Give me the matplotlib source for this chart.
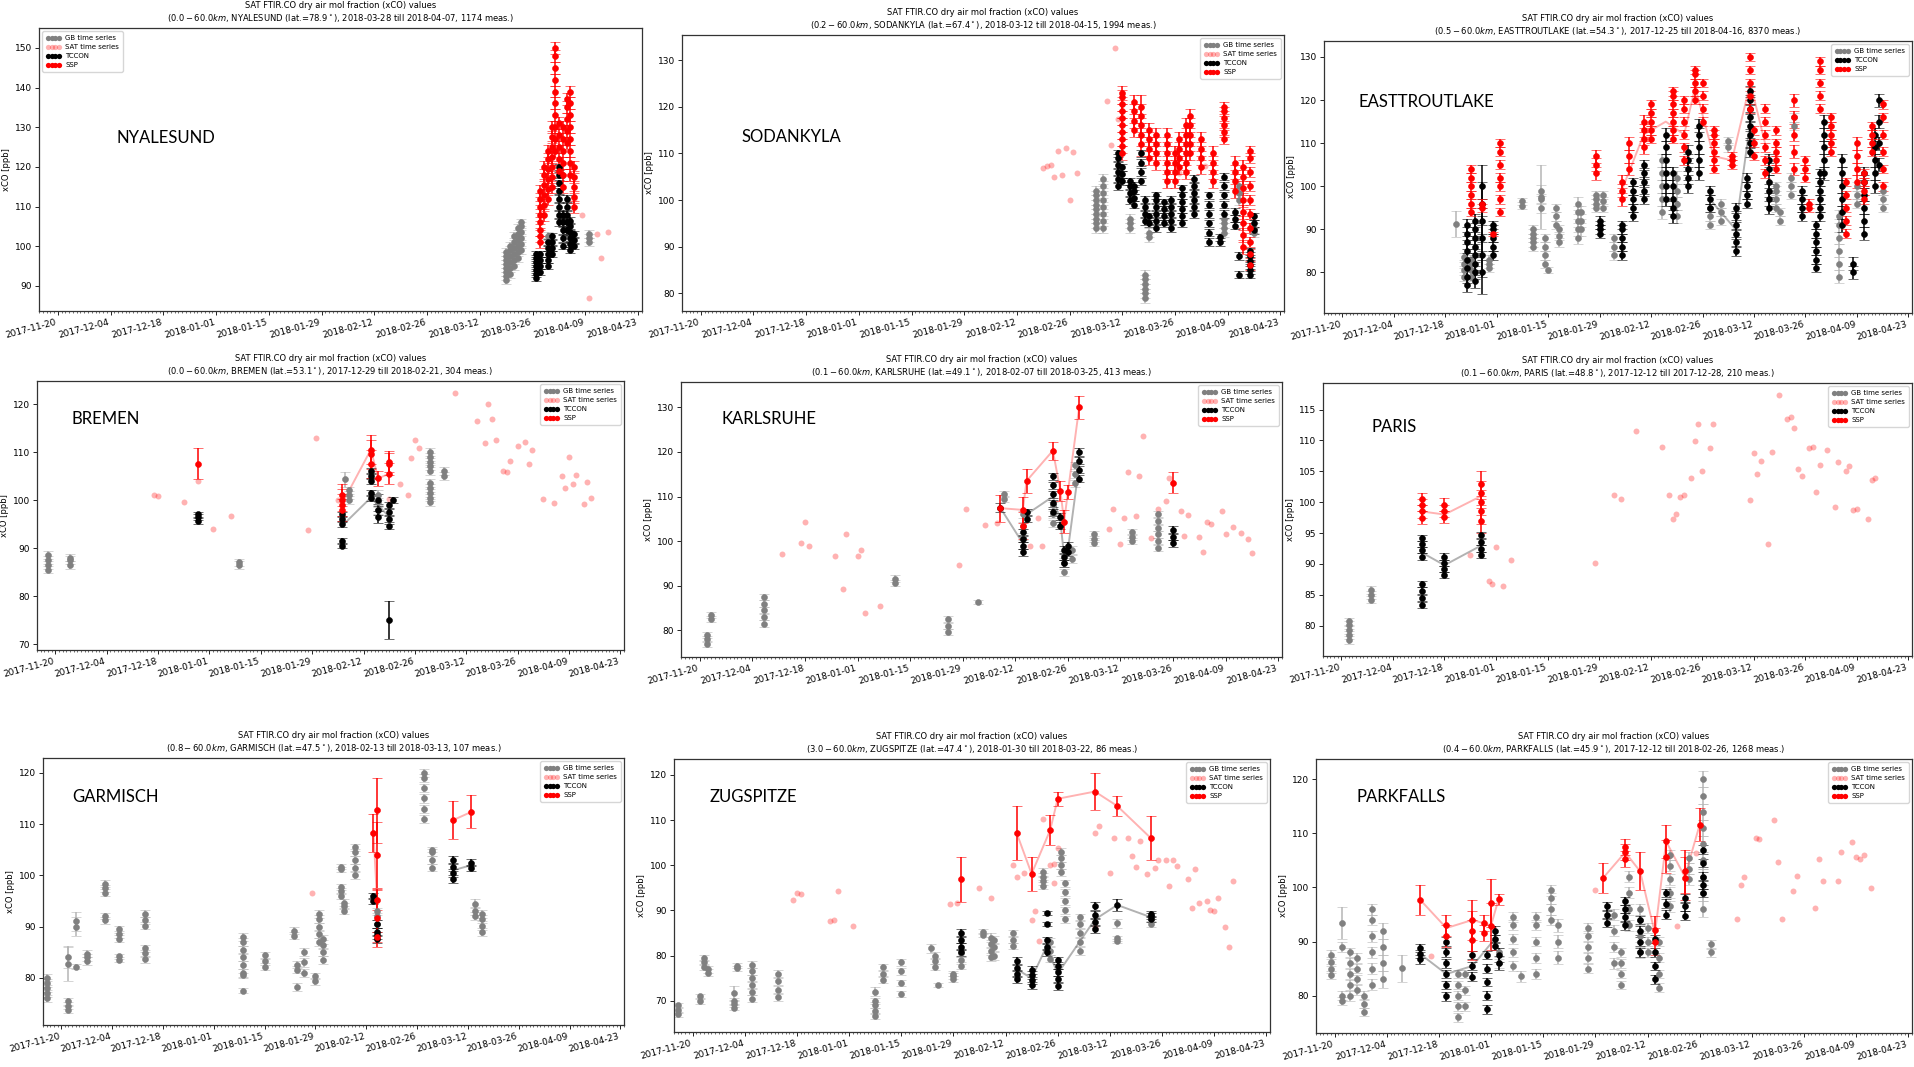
import pandas as pd
import matplotlib
matplotlib.use('Agg')
import matplotlib.pyplot as plt
import matplotlib.dates as mdates
from matplotlib.ticker import MultipleLocator
from matplotlib.lines import Line2D

plt.rcParams['font.size'] = 6

# ---------------- data: (date, values, error) per cluster ----------------
# NYALESUND
nya_gb = [('2018-03-19', [91.5, 92.5, 93.5, 94.5, 95.5, 96.5, 97.5, 98.5], 1.0),
          ('2018-03-20', [93, 94.5, 96, 97.5, 99, 100], 1.0),
          ('2018-03-21', [95, 96.5, 98, 99.5, 101, 102.5], 1.0),
          ('2018-03-22', [97, 98.5, 100, 101.5, 103, 104.5], 1.0),
          ('2018-03-23', [99, 100.5, 102, 103.5, 105, 106], 1.0),
          ('2018-03-30', [101, 102.5], 1.0),
          ('2018-04-10', [101, 102, 103], 1.0)]
nya_sat = [('2018-03-29', 110), ('2018-04-03', 118), ('2018-04-06', 112), ('2018-04-08', 108),
           ('2018-04-10', 87), ('2018-04-12', 103), ('2018-04-13', 97), ('2018-04-15', 103.5)]
nya_tccon = [('2018-03-27', [92, 93, 94, 95, 96, 97, 98], 0.8),
             ('2018-03-28', [93.5, 95, 96.5, 98], 0.8),
             ('2018-03-30', [95, 96.5, 98, 99.5, 101], 0.8),
             ('2018-03-31', [98, 99.5, 101, 102.5], 0.8),
             ('2018-04-02', [106, 108, 110, 112, 114, 116, 118, 120], 0.8),
             ('2018-04-03', [100, 102, 104, 106, 108], 0.8),
             ('2018-04-04', [104, 106, 108, 110, 112], 0.8),
             ('2018-04-05', [99, 100.5, 102, 103.5, 105, 106.5], 0.8),
             ('2018-04-06', [100, 101.5, 103], 0.8)]
nya_ssp = [('2018-03-28', [101, 102.5, 104, 106, 108, 110, 112, 114], 1.5),
           ('2018-03-29', [108, 110.5, 113, 115.5, 118, 120], 1.5),
           ('2018-03-30', [112, 114.5, 117, 119.5, 122, 124], 1.5),
           ('2018-03-31', [115, 117.5, 120, 122.5, 125, 127.5, 130], 1.5),
           ('2018-04-01', [124, 127, 130, 133, 136, 139, 142, 145, 148, 150], 1.5),
           ('2018-04-02', [119, 122, 125, 128, 131], 1.5),
           ('2018-04-03', [115, 118, 121, 124, 127, 130], 1.5),
           ('2018-04-04', [126, 129, 132, 135, 137], 1.5),
           ('2018-04-05', [118, 121, 124, 127, 130, 133, 136, 139], 1.5),
           ('2018-04-06', [110, 112.5, 115, 117.5, 120], 1.5)]

# SODANKYLA
sod_gb = [('2018-03-05', [94, 95, 96, 97, 98, 99, 100, 101, 102], 1.0),
          ('2018-03-07', [94, 95.5, 97, 98.5, 100, 101.5, 103, 104.5], 1.0),
          ('2018-03-14', [94, 95, 96], 1.0),
          ('2018-03-18', [79, 80, 81, 82, 83, 84], 1.0),
          ('2018-03-19', [92, 93], 1.0),
          ('2018-04-08', [93, 94, 95, 96], 1.0),
          ('2018-04-12', [100, 101.5, 103], 1.0),
          ('2018-04-16', [93, 94], 1.0)]
sod_sat = [('2018-02-19', 106.9), ('2018-02-20', 107.4), ('2018-02-21', 107.5), ('2018-02-22', 104.9),
           ('2018-02-23', 110.6), ('2018-02-24', 105.4), ('2018-02-25', 111.1), ('2018-02-26', 100.1),
           ('2018-02-27', 110.2), ('2018-02-28', 105.7), ('2018-03-08', 121.2), ('2018-03-09', 111.9),
           ('2018-03-10', 132.7), ('2018-03-11', 117.3), ('2018-03-27', 105.7), ('2018-04-03', 107.4)]
sod_tccon = [('2018-03-11', [103, 104.5, 106, 107.5, 109, 110], 0.8),
             ('2018-03-12', [104, 105.5, 107], 0.8),
             ('2018-03-14', [100, 101.5, 103, 104], 0.8),
             ('2018-03-15', [99, 100.5, 102, 103], 0.8),
             ('2018-03-17', [104, 106, 108, 110], 0.8),
             ('2018-03-18', [95.5, 97, 98.5, 100], 0.8),
             ('2018-03-19', [95, 96.5], 0.8),
             ('2018-03-21', [94, 95.5, 97, 98.5, 100, 101], 0.8),
             ('2018-03-23', [95, 96.5, 98, 99.5], 0.8),
             ('2018-03-25', [94, 95.5, 97, 98.5, 100], 0.8),
             ('2018-03-28', [95, 96.5, 98, 99.5, 101, 102.5], 0.8),
             ('2018-03-31', [97, 98.5, 100, 101.5, 103, 104.5], 0.8),
             ('2018-04-04', [91, 93, 95, 97, 99, 101], 0.8),
             ('2018-04-07', [91, 92], 0.8),
             ('2018-04-08', [97, 99, 101, 103, 105], 0.8),
             ('2018-04-11', [94.5, 96, 97.5], 0.8),
             ('2018-04-12', [84, 88], 0.8),
             ('2018-04-15', [84, 85, 86, 87, 88, 89], 0.8),
             ('2018-04-16', [93.5, 95, 96.5], 0.8)]
sod_ssp = [('2018-03-12', [110, 111.5, 113, 114.5, 116, 117.5, 119, 120.5, 122, 123], 1.5),
           ('2018-03-15', [115, 117, 119, 121], 1.5),
           ('2018-03-17', [112, 114, 116, 118, 120], 2.5),
           ('2018-03-19', [109, 111, 113, 115], 1.5),
           ('2018-03-21', [108, 110, 112, 114], 1.5),
           ('2018-03-24', [104, 106, 108, 110, 112, 114], 1.5),
           ('2018-03-26', [104, 106, 108, 110], 1.5),
           ('2018-03-27', [107, 109, 111, 113], 1.5),
           ('2018-03-29', [106, 108, 110, 112, 114, 116], 1.5),
           ('2018-03-30', [110, 112, 114, 116, 118], 1.5),
           ('2018-04-02', [107, 109, 111, 113], 1.5),
           ('2018-04-05', [104, 106, 108, 110], 1.5),
           ('2018-04-08', [113, 114.5, 116, 117.5, 119, 120], 1.0),
           ('2018-04-11', [102, 104, 106, 108], 1.5),
           ('2018-04-13', [90, 92.5, 95, 97.5, 100, 102.5, 105, 107], 1.5),
           ('2018-04-15', [86, 88.5, 91, 94, 97, 100, 103, 106, 109, 110.5], 1.0)]

# EASTTROUTLAKE
etl_gb = [('2017-12-21', [91.3], 3.0),
          ('2017-12-23', [79, 80.5, 82, 83.5], 1.0),
          ('2017-12-25', [79, 80.5, 82, 83], 1.0),
          ('2017-12-30', [81, 82, 83], 1.0),
          ('2018-01-08', [95.5, 96.5], 0.8),
          ('2018-01-11', [86, 87, 88, 89, 90], 1.0),
          ('2018-01-13', [95, 97, 99], 1.2),
          ('2018-01-13', [97.5], 7.5),
          ('2018-01-14', [82, 84, 86, 88], 1.0),
          ('2018-01-15', [80.5], 0.7),
          ('2018-01-17', [91, 93, 95], 1.0),
          ('2018-01-18', [87, 88.5, 90], 1.0),
          ('2018-01-23', [88, 90, 92, 94, 96], 1.5),
          ('2018-01-24', [90, 92, 94], 1.5),
          ('2018-01-28', [95, 96, 97, 98], 1.0),
          ('2018-01-30', [95, 96.5, 98], 1.0),
          ('2018-02-02', [84, 86, 88], 1.0),
          ('2018-02-15', [94, 97, 100, 103, 106], 1.5),
          ('2018-02-19', [93, 96, 99, 102], 1.5),
          ('2018-02-28', [91, 93, 95], 1.0),
          ('2018-03-03', [92, 94, 96], 1.0),
          ('2018-03-05', [109, 110.5], 1.0),
          ('2018-03-18', [95, 97, 99, 100], 1.0),
          ('2018-03-19', [92, 94], 1.0),
          ('2018-03-22', [98, 100, 102], 1.0),
          ('2018-03-23', [114, 116], 1.0),
          ('2018-04-04', [79, 82, 85, 88, 91, 93], 1.5),
          ('2018-04-09', [96, 98, 100], 1.0),
          ('2018-04-16', [95, 97, 99], 1.0)]
etl_tccon = [('2017-12-24', [77, 79, 81, 83, 85, 87, 89, 91], 1.5),
             ('2017-12-26', [78, 80, 82, 84, 86, 88, 90, 92], 1.5),
             ('2017-12-28', [80, 84, 88, 92, 96, 100], 5.0),
             ('2017-12-31', [84, 86, 88, 90, 91], 1.0),
             ('2018-01-29', [89, 90, 91, 92], 1.0),
             ('2018-02-04', [84, 86, 88, 90, 91], 1.0),
             ('2018-02-07', [93, 95, 97, 99, 101], 1.0),
             ('2018-02-10', [97, 99, 101, 103, 105], 1.2),
             ('2018-02-16', [97, 100, 103, 106, 109, 112], 1.5),
             ('2018-02-18', [93, 95, 97, 100, 103], 1.5),
             ('2018-02-22', [100, 102, 104, 106, 108], 1.5),
             ('2018-02-25', [103, 106, 109, 112, 114], 1.5),
             ('2018-02-28', [95, 97, 99], 1.0),
             ('2018-03-07', [85, 87, 89, 91, 93, 95], 1.2),
             ('2018-03-10', [96, 98, 100, 102], 1.0),
             ('2018-03-11', [108, 110, 112, 114, 116, 118, 120, 122], 1.2),
             ('2018-03-16', [95, 97, 99, 101, 104, 106], 1.5),
             ('2018-03-25', [93, 95, 97, 99], 1.0),
             ('2018-03-29', [81, 83, 85, 87, 89, 91], 1.0),
             ('2018-03-30', [93, 95, 97, 99, 101, 103], 1.0),
             ('2018-03-31', [103, 106, 109, 112, 115], 1.5),
             ('2018-04-05', [91, 94, 97, 100, 103, 106], 1.5),
             ('2018-04-08', [80, 82], 1.5),
             ('2018-04-11', [89, 92, 95, 98, 101, 103], 1.5),
             ('2018-04-14', [100, 103, 106, 109, 112], 1.5),
             ('2018-04-15', [105, 110, 115, 120], 1.5)]
etl_ssp = [('2017-12-25', [94, 96, 98, 100, 102, 104], 1.0),
           ('2017-12-28', [95, 96], 1.0),
           ('2017-12-31', [89], 0.5),
           ('2018-01-02', [94, 97, 100, 102, 105, 108, 110], 1.0),
           ('2018-01-28', [103, 105, 107], 1.5),
           ('2018-02-04', [97, 99, 101], 1.5),
           ('2018-02-06', [104, 107, 110], 1.5),
           ('2018-02-10', [109, 111, 113, 115], 1.5),
           ('2018-02-12', [111, 113, 115, 117, 119], 1.0),
           ('2018-02-18', [111, 113, 115, 117, 119, 121, 122], 1.0),
           ('2018-02-21', [106, 109, 112, 115, 118, 120], 1.0),
           ('2018-02-24', [120, 122, 124, 126, 127], 1.0),
           ('2018-02-26', [115, 118, 121, 124], 1.0),
           ('2018-03-01', [104, 106, 108, 110, 112, 113], 1.0),
           ('2018-03-06', [105, 106, 107], 1.0),
           ('2018-03-11', [118, 121, 124, 127, 130], 1.0),
           ('2018-03-12', [107, 110, 113], 1.0),
           ('2018-03-15', [103, 106, 109, 112, 115, 118], 1.0),
           ('2018-03-18', [104, 106, 108, 110, 113], 1.0),
           ('2018-03-23', [104, 108, 112, 116, 120], 1.5),
           ('2018-03-26', [102, 104, 106], 1.0),
           ('2018-03-27', [95, 96], 1.0),
           ('2018-03-30', [118, 121, 124, 127, 129], 1.0),
           ('2018-04-02', [108, 110, 112, 114, 116], 1.0),
           ('2018-04-06', [89, 92, 95, 98, 101], 1.0),
           ('2018-04-09', [101, 104, 107, 110], 1.5),
           ('2018-04-11', [97, 99, 101, 103], 1.0),
           ('2018-04-13', [108, 110, 112, 114], 1.0),
           ('2018-04-16', [100, 104, 108, 112, 116, 119], 1.0)]
etl_ssp_line = [[('2018-02-04', 99), ('2018-02-10', 112), ('2018-02-16', 115), ('2018-02-21', 112),
                 ('2018-02-24', 123), ('2018-03-01', 107), ('2018-03-06', 106), ('2018-03-11', 124),
                 ('2018-03-15', 110)]]
etl_tccon_line = [[('2018-02-28', 97), ('2018-03-07', 90), ('2018-03-11', 115)]]

# BREMEN
bre_gb = [('2017-11-18', [85.5, 86.5, 87.5, 88.5], 0.8),
          ('2017-11-24', [86.5, 87.5, 88], 0.8),
          ('2018-01-09', [86.5, 87], 0.8),
          ('2018-02-07', [104.3], 1.5),
          ('2018-02-08', [100, 101, 102], 0.8),
          ('2018-02-16', [98, 99.5, 101], 1.0),
          ('2018-03-02', [106, 107, 108, 109, 110], 0.8),
          ('2018-03-02', [99.5, 100.5, 101.5, 102.5, 103.5], 0.8),
          ('2018-03-06', [105, 106], 0.8)]
bre_sat = [('2017-12-17', 101), ('2017-12-18', 100.8), ('2017-12-25', 99.5), ('2017-12-29', 104),
           ('2018-01-02', 94), ('2018-01-07', 96.7), ('2018-01-28', 93.7), ('2018-01-30', 113),
           ('2018-02-05', 100.1), ('2018-02-19', 100.3), ('2018-02-22', 103.3), ('2018-02-24', 101),
           ('2018-02-25', 108.8), ('2018-02-26', 112.6), ('2018-02-27', 110.8), ('2018-03-09', 122.2),
           ('2018-03-15', 116.5), ('2018-03-17', 111.8), ('2018-03-18', 120), ('2018-03-19', 116.8),
           ('2018-03-20', 112.5), ('2018-03-22', 106), ('2018-03-23', 105.8), ('2018-03-24', 108.2),
           ('2018-03-26', 111.3), ('2018-03-28', 112), ('2018-03-29', 107.5), ('2018-03-30', 110.4),
           ('2018-04-02', 100.2), ('2018-04-05', 99.4), ('2018-04-07', 105), ('2018-04-08', 102.6),
           ('2018-04-09', 108.9), ('2018-04-10', 103.3), ('2018-04-11', 105.2), ('2018-04-13', 99.1),
           ('2018-04-14', 103.8), ('2018-04-15', 100.5)]
bre_tccon = [('2017-12-29', [95.7, 96.4, 97], 0.6),
             ('2018-02-06', [90.5, 91.5], 0.6),
             ('2018-02-06', [95, 96, 97], 0.6),
             ('2018-02-14', [100.5, 101.5], 0.6),
             ('2018-02-14', [104, 105, 106], 0.6),
             ('2018-02-16', [96.5, 98, 100], 1.2),
             ('2018-02-19', [94.5, 96, 97.5, 99], 0.6),
             ('2018-02-20', [100], 0.6),
             ('2018-02-19', [75], 3.9)]
bre_ssp = [('2017-12-29', [107.6], 3.3),
           ('2018-02-06', [98, 99, 100, 101], 2.3),
           ('2018-02-14', [107.5, 109.5, 110.5], 3.0),
           ('2018-02-16', [104.5], 1.5),
           ('2018-02-19', [105.5, 107.5, 108], 2.2)]
bre_ssp_line = [[('2018-02-06', 99), ('2018-02-14', 110.5), ('2018-02-16', 104.5), ('2018-02-19', 105.5)]]
bre_tccon_line = [[('2018-02-06', 94.5), ('2018-02-14', 100.5), ('2018-02-19', 96.5)]]

# KARLSRUHE
kar_gb = [('2017-11-22', [77, 78, 79], 0.7),
          ('2017-11-23', [82.5, 83.5], 0.7),
          ('2017-12-07', [81.5, 83, 84.5, 86, 87.5], 0.7),
          ('2018-01-11', [90.6, 91.6], 0.7),
          ('2018-01-25', [79.6, 81, 82.5], 0.7),
          ('2018-02-02', [86.3], 0.5),
          ('2018-02-09', [109.5, 110.5], 0.7),
          ('2018-02-14', [101, 103.5, 106], 0.8),
          ('2018-02-22', [104, 106, 108], 0.8),
          ('2018-02-25', [93, 95, 97], 0.8),
          ('2018-02-27', [96, 98], 0.8),
          ('2018-02-28', [113, 115, 117], 0.8),
          ('2018-03-05', [99.5, 100.5, 101.5], 0.7),
          ('2018-03-15', [100, 101, 102], 0.7),
          ('2018-03-22', [98.5, 100, 101.5, 103, 104.5, 106], 0.8)]
kar_sat = [('2017-12-12', 97), ('2017-12-17', 99.6), ('2017-12-18', 104.3), ('2017-12-19', 99),
           ('2017-12-26', 96.6), ('2017-12-28', 89.3), ('2017-12-29', 101.6), ('2018-01-01', 96.6),
           ('2018-01-02', 97.9), ('2018-01-03', 83.9), ('2018-01-07', 85.5), ('2018-01-28', 94.7),
           ('2018-01-30', 107.2), ('2018-02-04', 103.7), ('2018-02-07', 104), ('2018-02-16', 98.8),
           ('2018-02-18', 105.2), ('2018-02-19', 98.8), ('2018-03-09', 102.7), ('2018-03-10', 107.1),
           ('2018-03-12', 99.4), ('2018-03-13', 105.2), ('2018-03-14', 115.4), ('2018-03-16', 105.6),
           ('2018-03-17', 114.5), ('2018-03-18', 123.5), ('2018-03-20', 100.7), ('2018-03-22', 107.1),
           ('2018-03-24', 109.1), ('2018-03-25', 114.2), ('2018-03-28', 106.7), ('2018-03-29', 101.2),
           ('2018-03-30', 105.9), ('2018-04-02', 100.9), ('2018-04-03', 97.5), ('2018-04-04', 104.4),
           ('2018-04-05', 103.9), ('2018-04-08', 106.7), ('2018-04-09', 101.7), ('2018-04-11', 103.2),
           ('2018-04-13', 101.8), ('2018-04-15', 100.5), ('2018-04-16', 97.4)]
kar_tccon = [('2018-02-08', [107.5], 1.0),
             ('2018-02-14', [97.5, 99, 100.5, 102], 0.8),
             ('2018-02-15', [105, 106.5], 0.8),
             ('2018-02-22', [106.5, 108.5, 110.5, 112.5, 114.5], 0.8),
             ('2018-02-24', [103.5, 105.5], 0.8),
             ('2018-02-25', [95, 96.5, 98], 0.8),
             ('2018-02-26', [97.5, 99], 0.8),
             ('2018-03-01', [114, 116, 118, 120], 0.8),
             ('2018-03-26', [99.5, 101, 102.5], 0.8)]
kar_ssp = [('2018-02-08', [107.4], 3.0),
           ('2018-02-14', [103.5, 107], 3.0),
           ('2018-02-15', [113.5], 2.6),
           ('2018-02-22', [120.3], 2.0),
           ('2018-02-24', [111.3], 2.2),
           ('2018-02-25', [104.4], 2.6),
           ('2018-02-26', [111.0], 1.5),
           ('2018-03-01', [130.0], 2.5),
           ('2018-03-26', [113.1], 2.3)]
kar_ssp_line = [[('2018-02-08', 107.4), ('2018-02-14', 107), ('2018-02-15', 113.5), ('2018-02-22', 120.3),
                 ('2018-02-24', 111.3), ('2018-02-25', 104.4), ('2018-02-26', 111), ('2018-03-01', 130)]]
kar_tccon_line = [[('2018-02-08', 107.5), ('2018-02-14', 99.5), ('2018-02-15', 106), ('2018-02-22', 110),
                   ('2018-02-24', 104.5), ('2018-02-25', 96.5), ('2018-02-26', 98), ('2018-03-01', 117)]]

# PARIS
par_gb = [('2017-11-22', [77.7, 78.5, 79.3, 80.1, 80.7], 0.6),
          ('2017-11-28', [84.2, 85, 85.8], 0.6)]
par_sat = [('2017-12-25', 91.5), ('2017-12-30', 87.2), ('2017-12-31', 86.7), ('2018-01-01', 92.8),
           ('2018-01-03', 86.4), ('2018-01-05', 90.7), ('2018-01-28', 90.1), ('2018-02-02', 101.2),
           ('2018-02-04', 100.5), ('2018-02-08', 111.5), ('2018-02-15', 109), ('2018-02-17', 101.1),
           ('2018-02-18', 97.2), ('2018-02-19', 98.1), ('2018-02-20', 100.8), ('2018-02-21', 101.1),
           ('2018-02-23', 103.9), ('2018-02-24', 109.9), ('2018-02-25', 112.7), ('2018-02-26', 105),
           ('2018-02-28', 108.7), ('2018-03-01', 112.7), ('2018-03-11', 100.3), ('2018-03-12', 107.9),
           ('2018-03-13', 104.5), ('2018-03-14', 106.6), ('2018-03-16', 93.3), ('2018-03-17', 108.2),
           ('2018-03-19', 117.3), ('2018-03-21', 113.5), ('2018-03-22', 113.8), ('2018-03-23', 112),
           ('2018-03-24', 105.3), ('2018-03-25', 104.2), ('2018-03-27', 108.7), ('2018-03-28', 108.9),
           ('2018-03-29', 101.6), ('2018-03-30', 106), ('2018-04-01', 108.4), ('2018-04-03', 99.2),
           ('2018-04-04', 106.5), ('2018-04-06', 105.1), ('2018-04-07', 105.9), ('2018-04-08', 98.8),
           ('2018-04-09', 98.9), ('2018-04-12', 97.2), ('2018-04-13', 103.6), ('2018-04-14', 103.9)]
par_tccon = [('2017-12-12', [91.2, 92.2, 93.2, 94.2], 0.5),
             ('2017-12-12', [83.3, 84.5, 85.7, 86.7], 0.5),
             ('2017-12-18', [88.2, 89.2, 90.2, 91.2], 0.5),
             ('2017-12-28', [91.4, 92.5, 93.6, 94.7], 0.5)]
par_ssp = [('2017-12-12', [97.5, 98.5, 99.5, 100.5], 1.0),
           ('2017-12-18', [97.6, 98.6, 99.6], 1.0),
           ('2017-12-28', [97, 98.5, 100, 101.5, 103], 2.0)]
par_ssp_line = [[('2017-12-12', 98.5), ('2017-12-18', 98), ('2017-12-28', 101)]]
par_tccon_line = [[('2017-12-12', 91.8), ('2017-12-18', 89.8), ('2017-12-28', 93)]]

# GARMISCH
gar_gb = [('2017-11-16', [76, 77, 78, 79, 80], 0.7),
          ('2017-11-22', [73.8, 74.6, 75.4], 0.7),
          ('2017-11-22', [84], 2.0),
          ('2017-11-22', [82.8], 3.5),
          ('2017-11-24', [90, 91], 1.8),
          ('2017-11-24', [82.2], 0.5),
          ('2017-11-27', [83.3, 84, 84.7], 0.7),
          ('2017-12-02', [96.6, 97.5, 98.4], 0.7),
          ('2017-12-02', [91.2, 92], 0.6),
          ('2017-12-06', [87.6, 88.5, 89.5], 0.7),
          ('2017-12-06', [83.5, 84.2], 0.5),
          ('2017-12-13', [90.2, 91.2, 92.5], 0.7),
          ('2017-12-13', [83.6, 84.8, 85.8], 0.7),
          ('2018-01-09', [81, 82.5, 84, 85.5, 87, 88], 0.8),
          ('2018-01-09', [80.5], 0.5),
          ('2018-01-09', [77.5], 0.5),
          ('2018-01-15', [82.2, 83.2, 84.4], 0.7),
          ('2018-01-23', [88.2, 89.2], 0.7),
          ('2018-01-24', [81.6, 82.6], 0.7),
          ('2018-01-24', [78.2], 0.8),
          ('2018-01-26', [81, 83, 85], 0.8),
          ('2018-01-29', [79.3, 80.3], 0.6),
          ('2018-01-30', [87, 88.5, 90, 91.5, 92.5], 0.8),
          ('2018-01-31', [83.5, 85, 86.5, 87.5], 0.8),
          ('2018-02-05', [101.2, 101.7], 0.5),
          ('2018-02-05', [96, 97, 97.8], 0.6),
          ('2018-02-06', [93, 94, 94.7], 0.6),
          ('2018-02-09', [100, 101.5, 103, 104.5, 105.5], 0.7),
          ('2018-02-15', [90.5, 92, 93], 0.7),
          ('2018-02-28', [111, 113, 115, 117, 119, 120], 0.8),
          ('2018-03-02', [101.5, 103, 104.5], 0.7),
          ('2018-03-02', [105], 0.5),
          ('2018-03-14', [92, 93, 94.5], 0.8),
          ('2018-03-16', [89, 90.2, 91.5, 92.5], 0.8)]
gar_sat = [('2018-01-28', 96.6)]
gar_tccon = [('2018-02-14', [95, 96], 0.6),
             ('2018-02-15', [87.5, 88.3, 89, 90.5], 0.7),
             ('2018-03-08', [99.3, 100.5, 101.7, 103], 0.8),
             ('2018-03-13', [101.5, 102.5], 0.6)]
gar_ssp = [('2018-02-14', [108.2], 3.7),
           ('2018-02-15', [112.7], 6.3),
           ('2018-02-15', [104], 6.4),
           ('2018-02-15', [95.2], 2.0),
           ('2018-02-15', [91.7], 5.7),
           ('2018-02-15', [88], 1.0),
           ('2018-03-08', [110.8], 3.8),
           ('2018-03-13', [112.4], 3.2)]
gar_ssp_line = [[('2018-02-14', 108.2), ('2018-02-15', 95.2)], [('2018-03-08', 110.8), ('2018-03-13', 112.4)]]
gar_tccon_line = [[('2018-03-08', 101), ('2018-03-13', 102)]]

# ZUGSPITZE
zug_gb = [('2017-11-16', [67, 68, 69], 0.6),
          ('2017-11-22', [70, 71], 0.6),
          ('2017-11-23', [77.5, 78.5, 79.5], 0.6),
          ('2017-11-24', [76.2, 77], 0.8),
          ('2017-12-01', [68.5, 69.3, 70], 0.6),
          ('2017-12-01', [71.7], 1.5),
          ('2017-12-02', [77.2, 77.8], 0.5),
          ('2017-12-06', [70.5, 72, 73.5, 75, 76.5, 78], 0.8),
          ('2017-12-13', [70.8, 72.5, 74.3, 76], 0.8),
          ('2018-01-08', [72], 1.0),
          ('2018-01-08', [66.6, 67.8, 69, 70], 0.7),
          ('2018-01-10', [74.7, 76, 77.5], 0.7),
          ('2018-01-15', [71.5, 74, 76.5, 78.5], 0.7),
          ('2018-01-23', [81.6], 1.0),
          ('2018-01-24', [77.5, 78.8, 80], 0.7),
          ('2018-01-25', [73.5], 0.5),
          ('2018-01-29', [74.8, 75.5, 76], 0.6),
          ('2018-01-31', [77.8, 79, 80.5], 0.8),
          ('2018-02-06', [84.6, 85.3], 0.5),
          ('2018-02-08', [79.6, 81, 82.5, 84], 0.9),
          ('2018-02-09', [80, 82, 83.5], 0.9),
          ('2018-02-14', [82.2, 83.5, 85], 0.7),
          ('2018-02-22', [95.5, 96.5, 97.5, 98.5], 0.8),
          ('2018-02-24', [79.3, 81, 83], 0.8),
          ('2018-02-27', [98.4, 100, 101.5, 103], 0.8),
          ('2018-02-28', [88, 90, 92, 94, 96], 0.8),
          ('2018-03-04', [81, 83, 85, 87, 88.5], 0.8),
          ('2018-03-14', [87.2], 1.0),
          ('2018-03-14', [83.2, 83.8], 0.5),
          ('2018-03-23', [87, 88], 0.6)]
zug_sat = [('2017-12-17', 92.3), ('2017-12-18', 93.8), ('2017-12-19', 93.7), ('2017-12-27', 87.7),
           ('2017-12-28', 87.9), ('2017-12-29', 94.4), ('2018-01-02', 86.6), ('2018-01-28', 91.4),
           ('2018-01-30', 91.6), ('2018-02-05', 95), ('2018-02-08', 92.7), ('2018-02-14', 100),
           ('2018-02-15', 97.5), ('2018-02-17', 98.2), ('2018-02-19', 87.9), ('2018-02-20', 89.8),
           ('2018-02-21', 83.3), ('2018-02-22', 110.2), ('2018-02-24', 100.1), ('2018-02-25', 100.3),
           ('2018-02-25', 96), ('2018-02-26', 103.9), ('2018-03-08', 107.2), ('2018-03-09', 108.7),
           ('2018-03-08', 86.4), ('2018-03-12', 98.2), ('2018-03-13', 106), ('2018-03-17', 106),
           ('2018-03-18', 102), ('2018-03-19', 99.7), ('2018-03-20', 105.3), ('2018-03-22', 98.1),
           ('2018-03-24', 99.4), ('2018-03-25', 101.2), ('2018-03-27', 101.2), ('2018-03-29', 101.2),
           ('2018-03-28', 95.5), ('2018-03-30', 99.9), ('2018-04-02', 96.9), ('2018-04-04', 99.1),
           ('2018-04-03', 90.6), ('2018-04-05', 91.6), ('2018-04-07', 92.1), ('2018-04-08', 90.1),
           ('2018-04-09', 89.8), ('2018-04-10', 92.7), ('2018-04-12', 86.4), ('2018-04-13', 82),
           ('2018-04-14', 96.4)]
zug_tccon = [('2018-01-31', [80.7, 82, 83.5, 85], 0.8),
             ('2018-02-15', [74.8, 76, 77.3, 78.8], 0.8),
             ('2018-02-19', [73.4, 74.5, 75.7, 76.8], 0.8),
             ('2018-02-23', [89.4], 0.5),
             ('2018-02-23', [87], 0.5),
             ('2018-02-23', [80.7, 82, 83.4], 0.8),
             ('2018-02-26', [73.3, 74.8, 76.3, 77.8, 79], 0.8),
             ('2018-03-08', [85.8, 87.5, 89, 91], 0.8),
             ('2018-03-14', [91.2], 1.3),
             ('2018-03-23', [88, 88.8, 89.3], 0.6)]
zug_ssp = [('2018-01-31', [96.9], 5.0),
           ('2018-02-15', [107.1], 6.0),
           ('2018-02-19', [98.1], 3.8),
           ('2018-02-24', [107.8], 3.3),
           ('2018-02-26', [114.7], 1.5),
           ('2018-03-08', [116.3], 4.0),
           ('2018-03-14', [113.1], 2.2),
           ('2018-03-23', [106], 4.8)]
zug_ssp_line = [[('2018-02-15', 107.1), ('2018-02-19', 98.1), ('2018-02-24', 107.8), ('2018-02-26', 114.7),
                 ('2018-03-08', 116.3), ('2018-03-14', 113.1), ('2018-03-23', 106)]]
zug_tccon_line = [[('2018-02-15', 77), ('2018-02-19', 75), ('2018-02-23', 82), ('2018-02-26', 76),
                   ('2018-03-08', 88), ('2018-03-14', 91.2), ('2018-03-23', 88.5)]]

# PARKFALLS
pkf_gb = [('2017-11-19', [83.8, 85, 86.3, 87.6], 0.8),
          ('2017-11-22', [79, 80], 0.8),
          ('2017-11-22', [93.4], 3.0),
          ('2017-11-22', [89], 1.0),
          ('2017-11-24', [80, 82, 84, 86, 88], 0.9),
          ('2017-11-26', [81, 83, 85, 87], 0.9),
          ('2017-11-28', [77, 78.5, 80], 0.8),
          ('2017-11-30', [82, 85, 88, 91, 94, 96], 1.0),
          ('2017-12-03', [83, 86, 89, 92], 1.5),
          ('2017-12-08', [85.1], 2.5),
          ('2017-12-23', [76, 78, 80, 82, 84], 0.8),
          ('2017-12-25', [78, 81, 84], 0.8),
          ('2018-01-03', [86, 88], 0.8),
          ('2018-01-07', [85.5, 88, 90.5, 93, 94.5], 0.9),
          ('2018-01-09', [83.6], 1.0),
          ('2018-01-13', [84, 87, 90, 93, 94.5], 0.9),
          ('2018-01-17', [94, 96, 98, 99.5], 1.0),
          ('2018-01-19', [87, 90, 93], 1.2),
          ('2018-01-27', [85, 87, 89, 91, 92.5], 0.9),
          ('2018-02-03', [86, 89, 92, 95], 1.0),
          ('2018-02-05', [82, 84, 86, 88], 0.8),
          ('2018-02-07', [93, 96, 99, 102], 1.0),
          ('2018-02-10', [88, 91, 94, 96], 1.0),
          ('2018-02-12', [88, 90, 92.5], 0.9),
          ('2018-02-15', [81.5, 84, 87, 90], 0.8),
          ('2018-02-18', [96.5, 99, 101.5, 104, 106], 1.0),
          ('2018-02-23', [101.5, 103.5, 105.5], 1.0),
          ('2018-02-27', [96, 99, 102, 105, 108, 111, 114, 117, 120], 1.5),
          ('2018-03-01', [88, 89.5], 0.8)]
pkf_sat = [('2017-12-16', 87.4), ('2018-01-29', 99.6), ('2018-02-20', 92.9), ('2018-02-25', 106.3),
           ('2018-03-08', 94.2), ('2018-03-09', 100.4), ('2018-03-10', 101.9), ('2018-03-13', 109.1),
           ('2018-03-14', 109), ('2018-03-18', 112.4), ('2018-03-19', 104.7), ('2018-03-20', 94.2),
           ('2018-03-23', 99.4), ('2018-03-24', 102.2), ('2018-03-29', 96.2), ('2018-03-30', 105.2),
           ('2018-03-31', 101.2), ('2018-04-04', 101.2), ('2018-04-05', 106.5), ('2018-04-08', 108.4),
           ('2018-04-09', 105.6), ('2018-04-10', 105.2), ('2018-04-11', 106), ('2018-04-13', 99.9)]
pkf_tccon = [('2017-12-13', [86.7, 87.7, 88.8], 0.8),
             ('2017-12-20', [82, 84, 86, 88, 90], 0.8),
             ('2017-12-20', [79.9], 0.8),
             ('2017-12-27', [83.5, 85.5, 87.5], 0.8),
             ('2017-12-31', [77.5, 80, 82.5, 85, 87.5], 0.8),
             ('2018-01-02', [89.2, 90.5, 92], 0.8),
             ('2018-01-03', [86, 87.5], 1.3),
             ('2018-02-01', [93.5, 95, 96.5], 0.8),
             ('2018-02-06', [93, 94.5, 96, 97.5], 0.8),
             ('2018-02-10', [88, 90, 92, 94], 0.8),
             ('2018-02-14', [83, 85.5, 88, 90.5], 0.8),
             ('2018-02-17', [95, 97, 99], 0.8),
             ('2018-02-22', [94.8, 96.5, 98], 0.8),
             ('2018-02-27', [99, 100.5, 102], 0.8),
             ('2018-02-27', [104.5, 107], 0.8)]
pkf_ssp = [('2017-12-13', [97.7], 2.7),
           ('2017-12-20', [91, 93], 2.0),
           ('2017-12-27', [90.3, 92, 94], 3.7),
           ('2017-12-30', [91.6, 93.4], 1.5),
           ('2018-01-01', [92.8, 97.1], 4.4),
           ('2018-01-03', [97.8], 1.0),
           ('2018-01-31', [101.7], 2.8),
           ('2018-02-06', [105.3, 106.5, 107.5], 1.5),
           ('2018-02-10', [103], 3.5),
           ('2018-02-14', [90, 92.2], 2.5),
           ('2018-02-17', [105.7, 108.5], 3.0),
           ('2018-02-22', [101.7, 103], 4.0),
           ('2018-02-26', [111.6], 3.0)]
pkf_ssp_line = [[('2017-12-13', 97.7), ('2017-12-20', 92.5), ('2017-12-27', 94), ('2018-01-01', 93),
                 ('2018-01-03', 97.8)],
                [('2018-01-31', 101.7), ('2018-02-06', 106.5), ('2018-02-10', 103), ('2018-02-14', 91.5),
                 ('2018-02-17', 108.5), ('2018-02-22', 102), ('2018-02-26', 111.6)]]
pkf_tccon_line = [[('2017-12-13', 87.7), ('2017-12-20', 84), ('2017-12-27', 85.5), ('2018-01-02', 90.5)]]


def title_for(lo, name, lat, start, end, n):
    return ('SAT FTIR.CO dry air mol fraction (xCO) values\n'
            '($%s-60.0km$, %s (lat.=%s$^\\circ$), %s till %s, %d meas.)' % (lo, name, lat, start, end, n))


# pixel boxes (left, right, top, bottom) in the 1915x1067 canvas
panels = [
    dict(name='NYALESUND', box=(39, 642, 28, 311), ylim=(83.7, 155), step=10, lxy=(0.128, 0.61), loc='upper left',
         title=title_for('0.0', 'NYALESUND', '78.9', '2018-03-28', '2018-04-07', 1174),
         gb=nya_gb, sat=nya_sat, tccon=nya_tccon, ssp=nya_ssp, sl=None, tl=None, show_sat=True),
    dict(name='SODANKYLA', box=(682, 1284, 35, 311), ylim=(76.2, 135.4), step=10, lxy=(0.099, 0.63), loc='upper right',
         title=title_for('0.2', 'SODANKYLA', '67.4', '2018-03-12', '2018-04-15', 1994),
         gb=sod_gb, sat=sod_sat, tccon=sod_tccon, ssp=sod_ssp, sl=None, tl=None, show_sat=True),
    dict(name='EASTTROUTLAKE', box=(1324, 1912, 41, 313), ylim=(70.6, 133.7), step=10, lxy=(0.059, 0.776),
         loc='upper right', title=title_for('0.5', 'EASTTROUTLAKE', '54.3', '2017-12-25', '2018-04-16', 8370),
         gb=etl_gb, sat=None, tccon=etl_tccon, ssp=etl_ssp, sl=etl_ssp_line, tl=etl_tccon_line, show_sat=False),
    dict(name='BREMEN', box=(37, 624, 381, 650), ylim=(68.75, 124.8), step=10, lxy=(0.059, 0.86), loc='upper right',
         title=title_for('0.0', 'BREMEN', '53.1', '2017-12-29', '2018-02-21', 304),
         gb=bre_gb, sat=bre_sat, tccon=bre_tccon, ssp=bre_ssp, sl=bre_ssp_line, tl=bre_tccon_line, show_sat=True),
    dict(name='KARLSRUHE', box=(681, 1282, 382, 657), ylim=(74, 135.7), step=10, lxy=(0.068, 0.865), loc='upper right',
         title=title_for('0.1', 'KARLSRUHE', '49.1', '2018-02-07', '2018-03-25', 413),
         gb=kar_gb, sat=kar_sat, tccon=kar_tccon, ssp=kar_ssp, sl=kar_ssp_line, tl=kar_tccon_line, show_sat=True),
    dict(name='PARIS', box=(1323, 1912, 383, 656), ylim=(75.1, 119.3), step=5, lxy=(0.083, 0.84), loc='upper right',
         title=title_for('0.1', 'PARIS', '48.8', '2017-12-12', '2017-12-28', 210),
         gb=par_gb, sat=par_sat, tccon=par_tccon, ssp=par_ssp, sl=par_ssp_line, tl=par_tccon_line, show_sat=True),
    dict(name='GARMISCH', box=(43, 624, 758, 1025), ylim=(70.8, 122.9), step=10, lxy=(0.05, 0.854), loc='upper right',
         title=title_for('0.8', 'GARMISCH', '47.5', '2018-02-13', '2018-03-13', 107),
         gb=gar_gb, sat=gar_sat, tccon=gar_tccon, ssp=gar_ssp, sl=gar_ssp_line, tl=gar_tccon_line, show_sat=True),
    dict(name='ZUGSPITZE', box=(674, 1270, 759, 1032), ylim=(63.1, 123.5), step=10, lxy=(0.059, 0.86), loc='upper right',
         title=title_for('3.0', 'ZUGSPITZE', '47.4', '2018-01-30', '2018-03-22', 86),
         gb=zug_gb, sat=zug_sat, tccon=zug_tccon, ssp=zug_ssp, sl=zug_ssp_line, tl=zug_tccon_line, show_sat=True),
    dict(name='PARKFALLS', box=(1316, 1912, 759, 1033), ylim=(73.1, 123.75), step=10, lxy=(0.068, 0.86),
         loc='upper right', title=title_for('0.4', 'PARKFALLS', '45.9', '2017-12-12', '2018-02-26', 1268),
         gb=pkf_gb, sat=pkf_sat, tccon=pkf_tccon, ssp=pkf_ssp, sl=pkf_ssp_line, tl=pkf_tccon_line, show_sat=True),
]


def expand(clusters):
    xs, ys, es = [], [], []
    for d, vals, err in clusters:
        for v in vals:
            xs.append(pd.Timestamp(d))
            ys.append(v)
            es.append(err)
    return xs, ys, es


def draw_lines(ax, segments, color):
    if segments is None:
        return
    for seg in segments:
        ax.plot([pd.Timestamp(d) for d, v in seg], [v for d, v in seg], '-', color=color, alpha=0.3, lw=1.4)


W, H = 1915, 1067
fig = plt.figure(figsize=(W / 100, H / 100), dpi=100)
major = pd.date_range('2017-11-20', '2018-04-23', freq='14D')
eb = dict(fmt='o', ms=4.3, mew=0.4, capsize=3.6, elinewidth=1.1, capthick=1.4)


def legend_dot(color, alpha=1.0):
    return Line2D([], [], ls='', marker='o', ms=3.8, mew=0, color=color, alpha=alpha)


for p in panels:
    l, r, t, b = p['box']
    ax = fig.add_axes([l / W, 1 - b / H, (r - l) / W, (b - t) / H])

    x, y, e = expand(p['gb'])
    ax.errorbar(x, y, yerr=e, color='grey', ecolor='#b5b5b5', **eb)
    if p['sat'] is not None:
        ax.plot([pd.Timestamp(d) for d, v in p['sat']], [v for d, v in p['sat']], 'o', ms=4.3, mew=0,
                color='red', alpha=0.3)
    draw_lines(ax, p['tl'], 'black')
    x, y, e = expand(p['tccon'])
    ax.errorbar(x, y, yerr=e, color='black', ecolor='black', **eb)
    draw_lines(ax, p['sl'], 'red')
    x, y, e = expand(p['ssp'])
    ax.errorbar(x, y, yerr=e, color='red', ecolor='red', **eb)

    ax.set_xlim(pd.Timestamp('2017-11-15'), pd.Timestamp('2018-04-24'))
    ax.set_ylim(*p['ylim'])
    ax.yaxis.set_major_locator(MultipleLocator(p['step']))
    ax.set_xticks(major)
    ax.xaxis.set_major_formatter(mdates.DateFormatter('%Y-%m-%d'))
    ax.xaxis.set_minor_locator(mdates.DayLocator())
    ax.tick_params(axis='both', which='major', labelsize=6.5, length=3, width=0.6, pad=2)
    ax.tick_params(axis='x', which='minor', length=1.5, width=0.4)
    for lab in ax.get_xticklabels():
        lab.set_rotation(15)
        lab.set_ha('right')
    for s in ax.spines.values():
        s.set_linewidth(0.9)
        s.set_color('#333333')
    ax.set_ylabel('xCO [ppb]', fontsize=6, labelpad=3)
    ax.set_title(p['title'], fontsize=6, pad=5)
    ax.text(p['lxy'][0], p['lxy'][1], p['name'], transform=ax.transAxes, fontsize=12,
            family='Lato', ha='left', va='center')

    handles = [legend_dot('grey')]
    labels = ['GB time series']
    if p['show_sat']:
        handles.append(legend_dot('red', 0.3))
        labels.append('SAT time series')
    handles += [legend_dot('black'), legend_dot('red')]
    labels += ['TCCON', 'SSP']
    ax.legend(handles, labels, loc=p['loc'], fontsize=5, numpoints=4, handlelength=2.2,
              borderpad=0.5, labelspacing=0.45, handletextpad=0.6, framealpha=0.8)

fig.savefig('out.png', dpi=100)
